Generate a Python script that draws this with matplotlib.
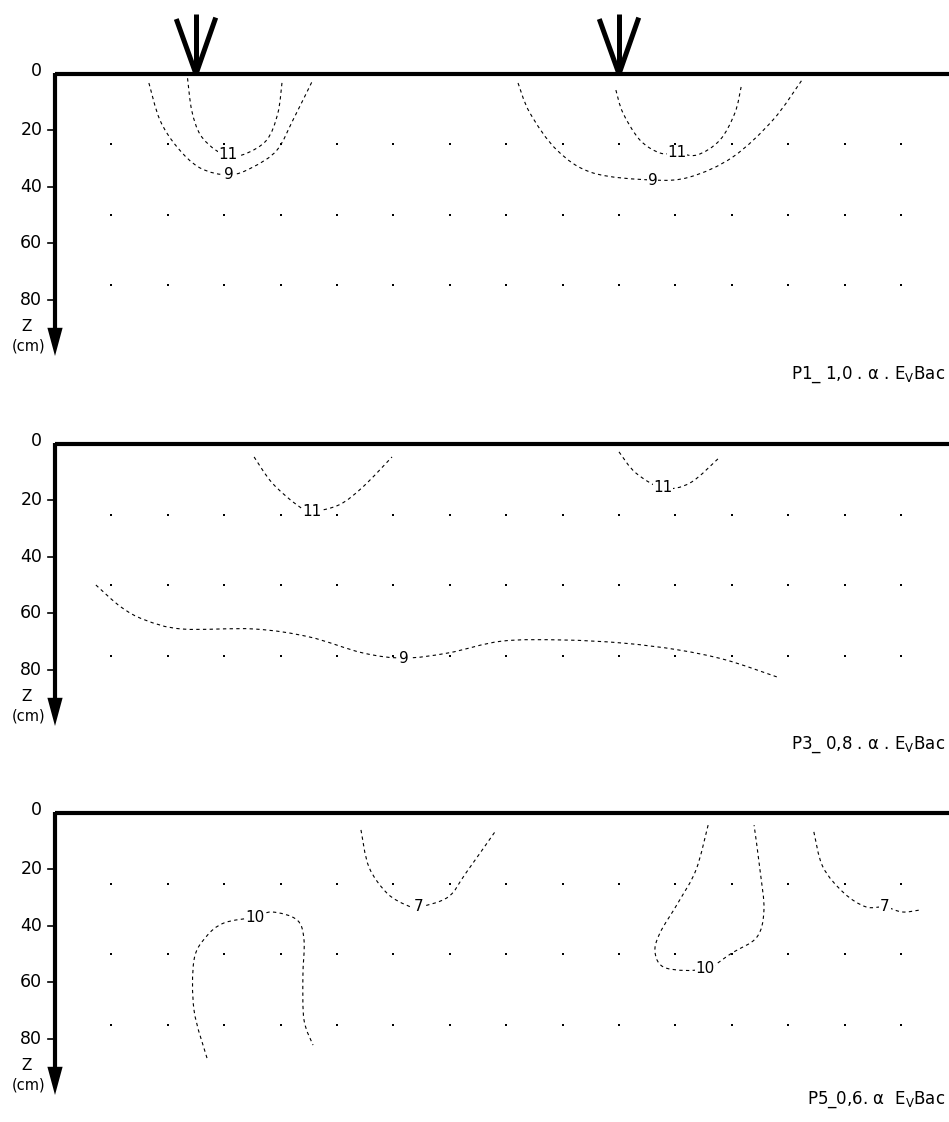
import matplotlib.pyplot as plt
import numpy as np
from matplotlib.path import Path
from matplotlib.patches import PathPatch

# --- Data (cm): horizontal distance x, depth z ---
depth_ticks = [0, 20, 40, 60, 80]
dot_x = [20, 40, 60, 80, 100, 120, 140, 160, 180, 200, 220, 240, 260, 280, 300]
dot_z = [25, 50, 75]
tree_x = [50, 200]

# P1 contours
p1_c11a_x = [47, 48.5, 51.5, 57, 61.5, 67, 75, 79, 80.5]
p1_c11a_z = [1.5, 13, 21.5, 27, 28.5, 28.5, 23.5, 14, 3]
p1_c9a_x = [33.3, 37.2, 43.3, 51.4, 61.7, 70.2, 78.7, 84.4, 91.1]
p1_c9a_z = [3.2, 16.3, 25.9, 33.3, 35.8, 33, 27, 16.3, 2.8]
p1_c11b_x = [198.9, 201.4, 207.4, 214.5, 220.6, 227.7, 235.8, 241.1, 243.3]
p1_c11b_z = [5.7, 13.8, 23.4, 28, 28, 28.7, 23.4, 13.8, 4.6]
p1_c9b_x = [164.2, 168.4, 178, 190.8, 212, 225.2, 240.4, 254.6, 264.9]
p1_c9b_z = [3.2, 13.8, 27, 35.1, 37.6, 36.5, 29.4, 16.3, 2.1]

# P3 contours
p3_c11a_x = [70.6, 77, 85.8, 91.1, 100.7, 109.2, 119.5]
p3_c11a_z = [4.6, 13.8, 21.6, 23.8, 21.6, 15.2, 4.6]
p3_c11b_x = [200, 206, 215.6, 225.2, 235.8]
p3_c11b_z = [2.8, 10.3, 15.6, 13.8, 4.6]
p3_c9_x = [14.5, 23.4, 31.9, 45, 70.6, 90.1, 109.2, 123.8, 139.4, 158.5,
           180.1, 201.4, 220.9, 238, 256]
p3_c9_z = [50, 57.8, 62.4, 65.6, 65.6, 68.4, 74.1, 75.9, 74.1, 69.9,
           69.5, 70.6, 73, 76.6, 82.6]

# P5 contours
p5_c7a_x = [108.5, 111.3, 117.7, 124.5, 129.1, 139.4, 145.7, 156]
p5_c7a_z = [6, 19.1, 28.4, 32.6, 33.3, 29.8, 21.3, 6.7]
p5_c10a_x = [53.9, 49.3, 49.3, 53.5, 59.9, 70.9, 77, 85.8, 88.3, 87.9, 88.3, 91.5]
p5_c10a_z = [86.9, 69.9, 52.1, 44, 39, 36.9, 35.1, 37.9, 45, 58.2, 73.4, 82.3]
p5_c10b_x = [231.6, 227.3, 220.9, 214.5, 212.8, 216.7, 230.5, 240.1, 248.9,
             251.4, 250, 247.9]
p5_c10b_z = [4.3, 20.2, 31.9, 42.6, 49.6, 55, 55.3, 49.6, 44, 34.4, 20.2, 4.3]
p5_c7b_x = [269.1, 272.3, 279.8, 287.6, 294.3, 300.4, 306.7]
p5_c7b_z = [6.7, 19.1, 28.4, 33.3, 33.3, 35.1, 34.4]

# contour label: (value, index of point the label sits on)
panels = [
    dict(name="P1_ 1,0 . α . E$_\\mathregular{V}$Bac", trees=True,
         contours=[(p1_c11a_x, p1_c11a_z, "11", 4), (p1_c9a_x, p1_c9a_z, "9", 4),
                   (p1_c11b_x, p1_c11b_z, "11", 4), (p1_c9b_x, p1_c9b_z, "9", 4)]),
    dict(name="P3_ 0,8 . α . E$_\\mathregular{V}$Bac", trees=False,
         contours=[(p3_c11a_x, p3_c11a_z, "11", 3), (p3_c11b_x, p3_c11b_z, "11", 2),
                   (p3_c9_x, p3_c9_z, "9", 7)]),
    dict(name="P5_0,6. α  E$_\\mathregular{V}$Bac", trees=False,
         contours=[(p5_c7a_x, p5_c7a_z, "7", 4), (p5_c10a_x, p5_c10a_z, "10", 5),
                   (p5_c10b_x, p5_c10b_z, "10", 6), (p5_c7b_x, p5_c7b_z, "7", 4)]),
]


def smooth_path(xs, zs):
    # Catmull-Rom through the read points, drawn as cubic Bezier segments
    p = np.column_stack([xs, zs]).astype(float)
    ext = np.vstack([p[0], p, p[-1]])
    verts = [p[0]]
    codes = [Path.MOVETO]
    for i in range(1, len(ext) - 2):
        c1 = ext[i] + (ext[i + 1] - ext[i - 1]) / 6
        c2 = ext[i + 1] - (ext[i + 2] - ext[i]) / 6
        verts += [c1, c2, ext[i + 1]]
        codes += [Path.CURVE4] * 3
    return Path(verts, codes)


# --- Layout in pixels (figure 949 x 1122) ---
W, H = 949, 1122
S = 2.82          # px per cm
X0 = 55           # px of the depth axis
# (top px, bottom px, origin px, label px)
bounds = [(0, 400, 74, 375), (400, 775, 444, 745), (775, 1122, 813, 1100)]

fig = plt.figure(figsize=(W / 100, H / 100), dpi=100)
fig.patch.set_facecolor('white')

for panel, (top, bot, org, lab) in zip(panels, bounds):
    ax = fig.add_axes([0, 1 - bot / H, 1, (bot - top) / H])
    ax.set_xlim(-X0 / S, (W - X0) / S)
    ax.set_ylim((bot - org) / S, (top - org) / S)
    ax.axis('off')

    # axes lines
    ax.plot([0, (W - X0) / S + 1], [0, 0], color='black', lw=3, solid_capstyle='butt')
    ax.plot([0, 0], [-0.5, 91], color='black', lw=3, solid_capstyle='butt')
    ax.fill([-2.7, 2.7, 0], [90, 90, 100], color='black', lw=0)

    # depth ticks and labels
    for d in depth_ticks:
        if d > 0:
            ax.plot([-2.6, 0], [d, d], color='black', lw=1.2)
        ax.text(-4.5, d - (1.0 if d == 0 else 0), str(d), ha='right', va='center',
                fontsize=12.5)
    ax.text(-10, 89.5, "Z", ha='center', va='center', fontsize=11)
    ax.text(-9.5, 96.5, "(cm)", ha='center', va='center', fontsize=10.5)

    # grid of measurement points
    gx, gz = np.meshgrid(dot_x, dot_z)
    ax.plot(gx.ravel(), gz.ravel(), 's', color='black', ms=1.7, mew=0)

    # trees
    if panel['trees']:
        for tx in tree_x:
            for dx, dz in [(-7, -19.5), (0, -21.3), (7, -20)]:
                ax.plot([tx, tx + dx], [0, dz], color='black', lw=3.6,
                        solid_capstyle='butt')

    # iso-lines
    for cx, cz, val, k in panel['contours']:
        ax.add_patch(PathPatch(smooth_path(cx, cz), fill=False, edgecolor='black',
                               lw=0.8, linestyle=(0, (3, 3))))
        ax.text(cx[k], cz[k], val, ha='center', va='center', fontsize=11,
                bbox=dict(facecolor='white', edgecolor='none', pad=0.5))

    ax.text((945 - X0) / S, (lab - org) / S, panel['name'], ha='right', va='center',
            fontsize=12)

fig.savefig('out.png', dpi=100, facecolor='white')
